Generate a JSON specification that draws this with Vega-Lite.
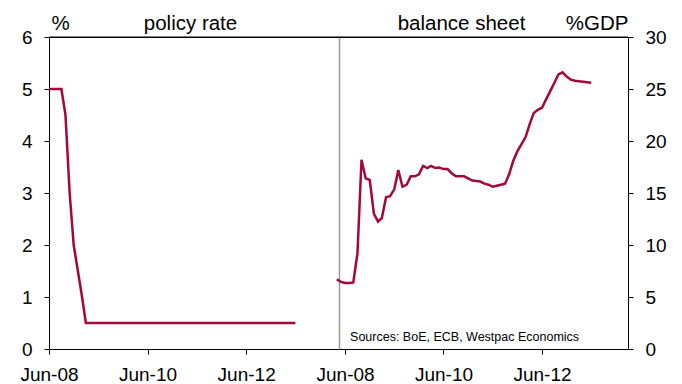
{
  "$schema": "https://vega.github.io/schema/vega-lite/v6.json",
  "background": "white",
  "padding": {"left": 19, "top": 13, "right": 5, "bottom": 5},
  "spacing": 0,
  "bounds": "flush",
  "config": {
    "view": {"stroke": null},
    "font": "Liberation Sans",
    "axis": {
      "labelFont": "Liberation Sans",
      "labelFontSize": 19,
      "labelColor": "black",
      "domainColor": "black",
      "tickColor": "black",
      "grid": false,
      "tickSize": 5,
      "labelPadding": 12,
      "domainWidth": 1,
      "tickWidth": 1,
      "labelFlush": false,
      "labelOverlap": false,
      "titleFont": "Liberation Sans",
      "titleFontSize": 20.5,
      "titleFontWeight": "normal",
      "titleColor": "black"
    },
    "axisX": {"labelPadding": 11}
  },
  "datasets": {
    "policy": [
      {"date": "2008-06-01", "rate": 5.0}, {"date": "2008-07-01", "rate": 5.0}, {"date": "2008-08-01", "rate": 5.0},
      {"date": "2008-09-01", "rate": 5.0}, {"date": "2008-10-01", "rate": 4.5}, {"date": "2008-11-01", "rate": 3.0},
      {"date": "2008-12-01", "rate": 2.0}, {"date": "2009-01-01", "rate": 1.5}, {"date": "2009-02-01", "rate": 1.0},
      {"date": "2009-03-01", "rate": 0.5}, {"date": "2009-04-01", "rate": 0.5}, {"date": "2009-05-01", "rate": 0.5},
      {"date": "2009-06-01", "rate": 0.5}, {"date": "2009-07-01", "rate": 0.5}, {"date": "2009-08-01", "rate": 0.5},
      {"date": "2009-09-01", "rate": 0.5}, {"date": "2009-10-01", "rate": 0.5}, {"date": "2009-11-01", "rate": 0.5},
      {"date": "2009-12-01", "rate": 0.5}, {"date": "2010-01-01", "rate": 0.5}, {"date": "2010-02-01", "rate": 0.5},
      {"date": "2010-03-01", "rate": 0.5}, {"date": "2010-04-01", "rate": 0.5}, {"date": "2010-05-01", "rate": 0.5},
      {"date": "2010-06-01", "rate": 0.5}, {"date": "2010-07-01", "rate": 0.5}, {"date": "2010-08-01", "rate": 0.5},
      {"date": "2010-09-01", "rate": 0.5}, {"date": "2010-10-01", "rate": 0.5}, {"date": "2010-11-01", "rate": 0.5},
      {"date": "2010-12-01", "rate": 0.5}, {"date": "2011-01-01", "rate": 0.5}, {"date": "2011-02-01", "rate": 0.5},
      {"date": "2011-03-01", "rate": 0.5}, {"date": "2011-04-01", "rate": 0.5}, {"date": "2011-05-01", "rate": 0.5},
      {"date": "2011-06-01", "rate": 0.5}, {"date": "2011-07-01", "rate": 0.5}, {"date": "2011-08-01", "rate": 0.5},
      {"date": "2011-09-01", "rate": 0.5}, {"date": "2011-10-01", "rate": 0.5}, {"date": "2011-11-01", "rate": 0.5},
      {"date": "2011-12-01", "rate": 0.5}, {"date": "2012-01-01", "rate": 0.5}, {"date": "2012-02-01", "rate": 0.5},
      {"date": "2012-03-01", "rate": 0.5}, {"date": "2012-04-01", "rate": 0.5}, {"date": "2012-05-01", "rate": 0.5},
      {"date": "2012-06-01", "rate": 0.5}, {"date": "2012-07-01", "rate": 0.5}, {"date": "2012-08-01", "rate": 0.5},
      {"date": "2012-09-01", "rate": 0.5}, {"date": "2012-10-01", "rate": 0.5}, {"date": "2012-11-01", "rate": 0.5},
      {"date": "2012-12-01", "rate": 0.5}, {"date": "2013-01-01", "rate": 0.5}, {"date": "2013-02-01", "rate": 0.5},
      {"date": "2013-03-01", "rate": 0.5}, {"date": "2013-04-01", "rate": 0.5}, {"date": "2013-05-01", "rate": 0.5},
      {"date": "2013-06-01", "rate": 0.5}
    ],
    "balance": [
      {"date": "2008-04-01", "gdp": 6.7}, {"date": "2008-05-01", "gdp": 6.45}, {"date": "2008-06-01", "gdp": 6.35},
      {"date": "2008-07-01", "gdp": 6.35}, {"date": "2008-08-01", "gdp": 6.4}, {"date": "2008-09-01", "gdp": 9.2},
      {"date": "2008-10-01", "gdp": 18.2}, {"date": "2008-11-01", "gdp": 16.4}, {"date": "2008-12-01", "gdp": 16.25},
      {"date": "2009-01-01", "gdp": 13.0}, {"date": "2009-02-01", "gdp": 12.25}, {"date": "2009-03-01", "gdp": 12.6},
      {"date": "2009-04-01", "gdp": 14.6}, {"date": "2009-05-01", "gdp": 14.7}, {"date": "2009-06-01", "gdp": 15.35},
      {"date": "2009-07-01", "gdp": 17.2}, {"date": "2009-08-01", "gdp": 15.6}, {"date": "2009-09-01", "gdp": 15.8},
      {"date": "2009-10-01", "gdp": 16.6}, {"date": "2009-11-01", "gdp": 16.6}, {"date": "2009-12-01", "gdp": 16.8},
      {"date": "2010-01-01", "gdp": 17.6}, {"date": "2010-02-01", "gdp": 17.4}, {"date": "2010-03-01", "gdp": 17.6},
      {"date": "2010-04-01", "gdp": 17.4}, {"date": "2010-05-01", "gdp": 17.45}, {"date": "2010-06-01", "gdp": 17.3},
      {"date": "2010-07-01", "gdp": 17.3}, {"date": "2010-08-01", "gdp": 16.9}, {"date": "2010-09-01", "gdp": 16.6},
      {"date": "2010-10-01", "gdp": 16.6}, {"date": "2010-11-01", "gdp": 16.6}, {"date": "2010-12-01", "gdp": 16.4},
      {"date": "2011-01-01", "gdp": 16.2}, {"date": "2011-02-01", "gdp": 16.15}, {"date": "2011-03-01", "gdp": 16.1},
      {"date": "2011-04-01", "gdp": 15.9}, {"date": "2011-05-01", "gdp": 15.8}, {"date": "2011-06-01", "gdp": 15.6},
      {"date": "2011-07-01", "gdp": 15.7}, {"date": "2011-08-01", "gdp": 15.8}, {"date": "2011-09-01", "gdp": 15.9},
      {"date": "2011-10-01", "gdp": 16.8}, {"date": "2011-11-01", "gdp": 18.1}, {"date": "2011-12-01", "gdp": 19.0},
      {"date": "2012-01-01", "gdp": 19.7}, {"date": "2012-02-01", "gdp": 20.4}, {"date": "2012-03-01", "gdp": 21.6},
      {"date": "2012-04-01", "gdp": 22.7}, {"date": "2012-05-01", "gdp": 23.0}, {"date": "2012-06-01", "gdp": 23.2},
      {"date": "2012-07-01", "gdp": 24.0}, {"date": "2012-08-01", "gdp": 24.8}, {"date": "2012-09-01", "gdp": 25.6},
      {"date": "2012-10-01", "gdp": 26.4}, {"date": "2012-11-01", "gdp": 26.6}, {"date": "2012-12-01", "gdp": 26.2},
      {"date": "2013-01-01", "gdp": 25.9}, {"date": "2013-02-01", "gdp": 25.8}, {"date": "2013-03-01", "gdp": 25.75},
      {"date": "2013-04-01", "gdp": 25.7}, {"date": "2013-05-01", "gdp": 25.65}, {"date": "2013-06-01", "gdp": 25.6}
    ],
    "note": [
      {"date": "2008-07-08", "gdp": 0.8, "label": "Sources: BoE, ECB, Westpac Economics"}
    ],
    "topline": [
      {"v": 1}
    ]
  },
  "hconcat": [
    {
      "width": 290,
      "height": 312,
      "layer": [
        {
          "data": {"name": "policy"},
          "mark": {"type": "line", "color": "#A4073B", "strokeWidth": 2.5},
          "encoding": {
            "x": {
              "field": "date", "type": "temporal",
              "scale": {"type": "utc", "domain": [{"year": 2008, "month": 6, "date": 1, "utc": true}, {"year": 2014, "month": 4, "date": 20, "utc": true}]},
              "axis": {
                "orient": "bottom", "title": null, "format": "%b-%y",
                "values": [{"year": 2008, "month": 6, "date": 1, "utc": true}, {"year": 2010, "month": 6, "date": 1, "utc": true}, {"year": 2012, "month": 6, "date": 1, "utc": true}]
              }
            },
            "y": {
              "field": "rate", "type": "quantitative",
              "scale": {"domain": [0, 6], "nice": false},
              "axis": {
                "orient": "left", "values": [0, 1, 2, 3, 4, 5, 6],
                "title": "%", "titleAngle": 0, "titleAlign": "left", "titleBaseline": "alphabetic",
                "titleX": 2, "titleY": -8
              }
            }
          }
        },
        {
          "data": {"name": "policy"},
          "mark": {"type": "line", "opacity": 0},
          "encoding": {
            "x": {"field": "date", "type": "temporal", "axis": {
              "orient": "top", "labels": false, "ticks": false, "domain": true, "domainColor": "black",
              "title": "policy rate", "titleAngle": 0, "titleAlign": "center", "titleBaseline": "alphabetic",
              "titleX": 141, "titleY": -8
            }},
            "y": {"field": "rate", "type": "quantitative", "axis": {"orient": "right", "labels": false, "ticks": false, "title": null, "domainColor": "#9a9a9a", "domainWidth": 1.5}}
          }
        },
        {
          "data": {"name": "topline"},
          "mark": {"type": "rule", "color": "black", "strokeWidth": 1},
          "encoding": {
            "y": {"datum": 6, "type": "quantitative", "axis": null}
          }
        }
      ],
      "resolve": {"axis": {"x": "independent", "y": "independent"}}
    },
    {
      "width": 289,
      "height": 312,
      "layer": [
        {
          "data": {"name": "balance"},
          "mark": {"type": "line", "color": "#A4073B", "strokeWidth": 2.5},
          "encoding": {
            "x": {
              "field": "date", "type": "temporal",
              "scale": {"type": "utc", "domain": [{"year": 2008, "month": 4, "date": 17, "utc": true}, {"year": 2014, "month": 3, "date": 1, "utc": true}]},
              "axis": {
                "orient": "bottom", "title": null, "format": "%b-%y",
                "values": [{"year": 2008, "month": 6, "date": 1, "utc": true}, {"year": 2010, "month": 6, "date": 1, "utc": true}, {"year": 2012, "month": 6, "date": 1, "utc": true}]
              }
            },
            "y": {
              "field": "gdp", "type": "quantitative",
              "scale": {"domain": [0, 30], "nice": false},
              "axis": {
                "orient": "right", "values": [0, 5, 10, 15, 20, 25, 30],
                "title": "%GDP", "titleAngle": 0, "titleAlign": "right", "titleBaseline": "alphabetic",
                "titleX": 0, "titleY": -8
              }
            }
          }
        },
        {
          "data": {"name": "balance"},
          "mark": {"type": "line", "opacity": 0},
          "encoding": {
            "x": {"field": "date", "type": "temporal", "axis": {
              "orient": "top", "labels": false, "ticks": false, "domain": true, "domainColor": "black",
              "title": "balance sheet", "titleAngle": 0, "titleAlign": "center", "titleBaseline": "alphabetic",
              "titleX": 122, "titleY": -8
            }},
            "y": {"field": "gdp", "type": "quantitative", "axis": null}
          }
        },
        {
          "data": {"name": "topline"},
          "mark": {"type": "rule", "color": "black", "strokeWidth": 1},
          "encoding": {
            "y": {"datum": 30, "type": "quantitative", "axis": null}
          }
        },
        {
          "data": {"name": "note"},
          "mark": {"type": "text", "align": "left", "baseline": "alphabetic", "fontSize": 12.5, "font": "Liberation Sans", "color": "black"},
          "encoding": {
            "x": {"field": "date", "type": "temporal", "axis": null},
            "y": {"field": "gdp", "type": "quantitative", "axis": null},
            "text": {"field": "label"}
          }
        }
      ],
      "resolve": {"axis": {"x": "independent", "y": "independent"}}
    }
  ]
}
